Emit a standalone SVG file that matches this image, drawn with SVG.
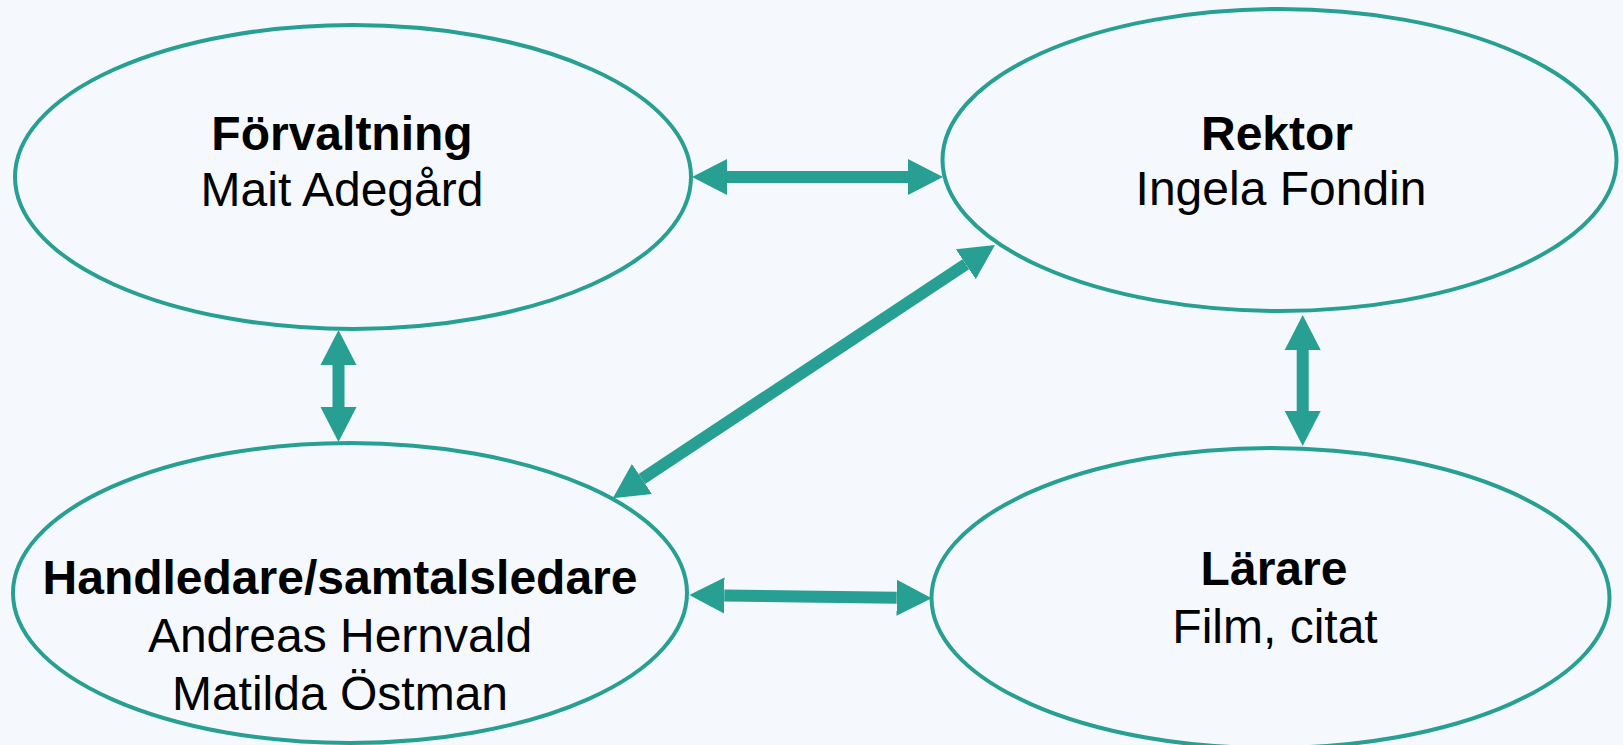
<svg xmlns="http://www.w3.org/2000/svg" width="1623" height="745" viewBox="0 0 1623 745">
  <style>
    .node { fill: #f5f9fd; stroke: #279f92; stroke-width: 4; }
    .title { font-family: "Liberation Sans", Arial, sans-serif; font-size: 48px; font-weight: bold; fill: #000; text-anchor: middle; }
    .sub { font-family: "Liberation Sans", Arial, sans-serif; font-size: 48px; fill: #000; text-anchor: middle; }
    .conn { stroke: #279f92; stroke-width: 12; fill: none; marker-start: url(#head); marker-end: url(#head); }
  </style>
  <defs>
    <marker id="head" markerUnits="userSpaceOnUse" markerWidth="40" markerHeight="40" viewBox="0 -20 40 40" refX="0" refY="0" orient="auto-start-reverse">
      <path d="M0,-18 L35,0 L0,18 Z" fill="#279f92"/>
    </marker>
  </defs>
  <rect width="1623" height="745" fill="#f5f9fd"/>

  <g id="forvaltning">
    <ellipse class="node" cx="353" cy="177" rx="338" ry="152"/>
    <text class="title" x="342" y="150">Förvaltning</text>
    <text class="sub" x="342" y="206">Mait Adegård</text>
  </g>

  <g id="rektor">
    <ellipse class="node" cx="1279.5" cy="160" rx="337" ry="151"/>
    <text class="title" x="1277" y="150">Rektor</text>
    <text class="sub" x="1281" y="205">Ingela Fondin</text>
  </g>

  <g id="handledare">
    <ellipse class="node" cx="350" cy="593" rx="337" ry="150"/>
    <text class="title" x="340" y="594">Handledare/samtalsledare</text>
    <text class="sub" x="340" y="652">Andreas Hernvald</text>
    <text class="sub" x="340" y="710">Matilda Östman</text>
  </g>

  <g id="larare">
    <ellipse class="node" cx="1270.5" cy="598" rx="339" ry="150"/>
    <text class="title" x="1274" y="585">Lärare</text>
    <text class="sub" x="1275" y="643">Film, citat</text>
  </g>

  <g id="connectors">
    <line class="conn" x1="727" y1="177" x2="908" y2="177"/>
    <line class="conn" x1="338.5" y1="365" x2="338.5" y2="407"/>
    <line class="conn" x1="965.8" y1="264.3" x2="641.9" y2="479"/>
    <line class="conn" x1="724.3" y1="595.5" x2="896.7" y2="597.8"/>
    <line class="conn" x1="1302.7" y1="350" x2="1302.7" y2="411"/>
  </g>
</svg>
